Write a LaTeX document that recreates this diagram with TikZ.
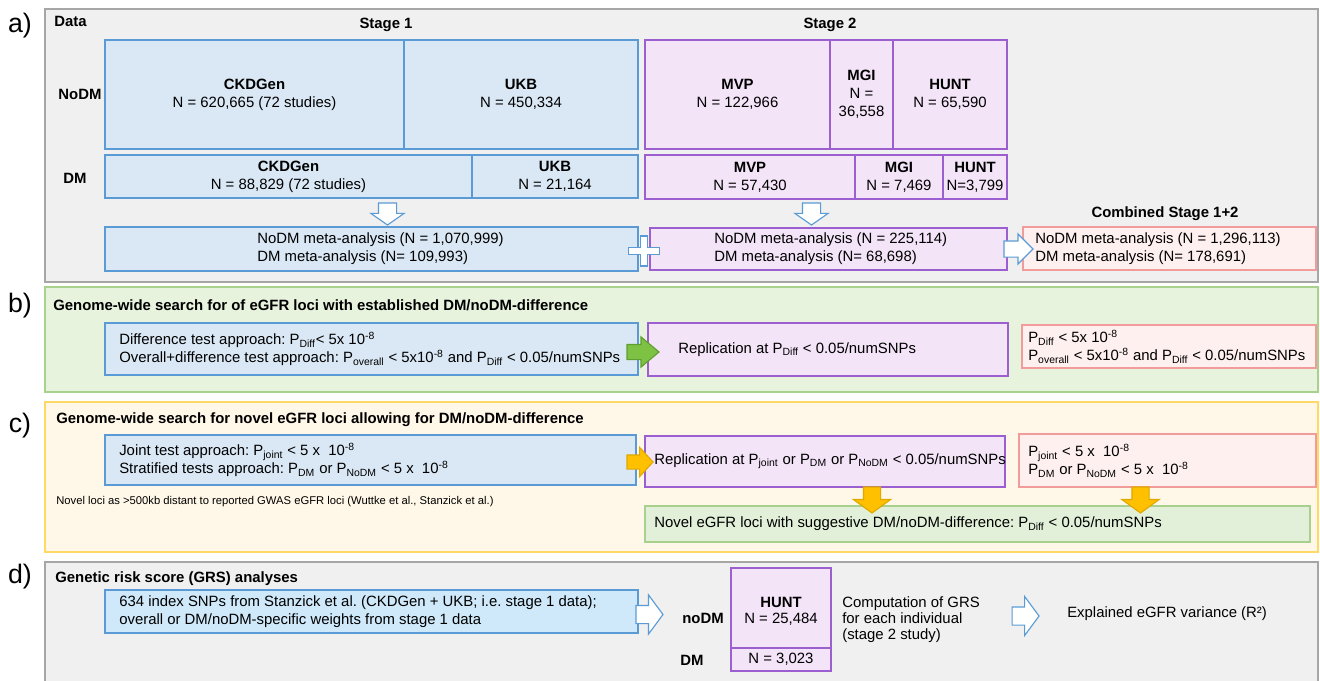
\documentclass[tikz,border=0pt]{standalone}
\usepackage{fontspec}
\setmainfont{Liberation Sans}
\usetikzlibrary{positioning,fit,calc,shapes.arrows}

\definecolor{panelgray}{HTML}{F0F0F0}
\definecolor{panelline}{HTML}{A6A6A6}
\definecolor{bluefill}{HTML}{DAE8F5}
\definecolor{blueline}{HTML}{5B9BD5}
\definecolor{purplefill}{HTML}{F3E4F8}
\definecolor{purpleline}{HTML}{9B5FCF}
\definecolor{redfill}{HTML}{FFF0F0}
\definecolor{redline}{HTML}{F29B9B}
\definecolor{greenpanel}{HTML}{E8F3DE}
\definecolor{greenline}{HTML}{A9D18E}
\definecolor{yellowpanel}{HTML}{FFF8E8}
\definecolor{yellowline}{HTML}{FFD966}
\definecolor{greenfill}{HTML}{E2F0D9}
\definecolor{cyanfill}{HTML}{CFE9FA}
\definecolor{arrowgreen}{HTML}{7DC242}
\definecolor{arrowgreenline}{HTML}{5E9E32}
\definecolor{arroworange}{HTML}{FFC000}
\definecolor{arroworangeline}{HTML}{E0A800}

\tikzset{%
	txt/.style      = {font=\fontsize{10.6}{12.8}\selectfont, inner sep=0pt},
	ctxt/.style     = {txt, align=center},
	ltxt/.style     = {txt, align=left, anchor=west},
	ttl/.style      = {font=\fontsize{10.6}{12.8}\selectfont\bfseries, inner sep=0pt},
	tag/.style      = {font=\fontsize{19}{22}\selectfont, inner sep=0pt},
	note/.style     = {font=\fontsize{8}{9.5}\selectfont, inner sep=0pt},
	box/.style      = {draw, line width=0.8pt, inner sep=0pt, outer sep=0pt},
	stage1/.style   = {box, draw=blueline, fill=bluefill},
	stage2/.style   = {box, draw=purpleline, fill=purplefill},
	combined/.style = {box, draw=redline, fill=redfill},
	novel/.style    = {box, draw=greenline, fill=greenfill},
	grs/.style      = {box, draw=blueline, fill=cyanfill},
	panelA/.style   = {draw=panelline, fill=panelgray, line width=0.8pt},
	panelB/.style   = {draw=greenline, fill=greenpanel, line width=0.8pt},
	panelC/.style   = {draw=yellowline, fill=yellowpanel, line width=1pt},
}
\tikzset{%
	blockarr/.style   = {single arrow, line width=0.8pt, inner xsep=0pt, outer sep=0pt, anchor=tail},
	hollowdown/.style = {blockarr, draw=blueline, fill=white, inner ysep=2.125mm, single arrow head extend=1.875mm, single arrow tip angle=110, minimum height=5.5mm, rotate=-90},
	hollowright/.style= {blockarr, draw=blueline, fill=white, inner ysep=1.875mm, single arrow head extend=1.75mm, single arrow tip angle=90, minimum height=7.25mm},
	hollowgrs/.style  = {blockarr, draw=blueline, fill=white, inner ysep=2.125mm, single arrow head extend=2.625mm, single arrow tip angle=107, minimum height=6.75mm},
	greenarr/.style   = {blockarr, draw=arrowgreenline, fill=arrowgreen, inner ysep=1.75mm, single arrow head extend=1.875mm, single arrow tip angle=80, minimum height=8mm},
	orangeright/.style= {blockarr, draw=arroworangeline, fill=arroworange, inner ysep=1.625mm, single arrow head extend=1.875mm, single arrow tip angle=95, minimum height=6.5mm},
	orangedown/.style = {blockarr, draw=arroworangeline, fill=arroworange, inner ysep=2mm, single arrow head extend=2.5mm, single arrow tip angle=108, minimum height=6.5mm, rotate=-90},
}

\begin{document}
\frenchspacing
\begin{tikzpicture}[x=0.25mm,y=-0.25mm]
	\useasboundingbox (0,0) rectangle (1320,680);
	\clip (0,0) rectangle (1320,680);
	\fill[white] (0,0) rectangle (1320,680);

	% panels
	\draw[panelA] (45,9) rectangle (1318,282);
	\draw[panelB] (45,287) rectangle (1318,392);
	\draw[panelC] (45,402) rectangle (1318,552);
	\draw[panelA] (45,562) rectangle (1318,700);

	\node[tag] (tagA) at (20,26) {a)};
	\node[tag] (tagB) at (20,306) {b)};
	\node[tag] (tagC) at (20,426) {c)};
	\node[tag] (tagD) at (20,577) {d)};

	% a) data
	\node[ttl,anchor=base west] (data) at (54,26) {Data};
	\node[ttl,anchor=base] (stageI) at (386,28) {Stage 1};
	\node[ttl,anchor=base] (stageII) at (830,28) {Stage 2};
	\node[ttl,anchor=base] (nodmA) at (80,99) {NoDM};
	\node[ttl,anchor=base] (dmA) at (75,183) {DM};
	\node[ttl,anchor=base] (combTitle) at (1165,217) {Combined Stage 1+2};

	\node[stage1,fit={(105,40)(404,149)}] (ckdNo) {};
	\node[ctxt] (ckdNoT) at (ckdNo) {\textbf{CKDGen}\\N = 620,665 (72 studies)};
	\node[stage1,fit={(404,40)(638,149)}] (ukbNo) {};
	\node[ctxt] (ukbNoT) at (ukbNo) {\textbf{UKB}\\N = 450,334};
	\node[stage1,fit={(105,155)(472,198)}] (ckdDm) {};
	\node[ctxt] (ckdDmT) at (ckdDm) {\textbf{CKDGen}\\N = 88,829 (72 studies)};
	\node[stage1,fit={(472,155)(638,198)}] (ukbDm) {};
	\node[ctxt] (ukbDmT) at (ukbDm) {\textbf{UKB}\\N = 21,164};
	\node[stage1,fit={(105,227)(638,271)}] (meta1) {};
	\node[ltxt] (meta1T) at ($(meta1.west)+(152,0)$) {NoDM meta-analysis (N = 1,070,999)\\DM meta-analysis (N= 109,993)};

	\node[stage2,fit={(645,40)(830,149)}] (mvpNo) {};
	\node[ctxt] (mvpNoT) at (mvpNo) {\textbf{MVP}\\N = 122,966};
	\node[stage2,fit={(830,40)(893,149)}] (mgiNo) {};
	\node[ctxt] (mgiNoT) at (mgiNo) {\textbf{MGI}\\N =\\36,558};
	\node[stage2,fit={(893,40)(1007,149)}] (huntNo) {};
	\node[ctxt] (huntNoT) at (huntNo) {\textbf{HUNT}\\N = 65,590};
	\node[stage2,fit={(645,155)(855,199)}] (mvpDm) {};
	\node[ctxt] (mvpDmT) at (mvpDm) {\textbf{MVP}\\N = 57,430};
	\node[stage2,fit={(855,155)(943,199)}] (mgiDm) {};
	\node[ctxt] (mgiDmT) at (mgiDm) {\textbf{MGI}\\N = 7,469};
	\node[stage2,fit={(943,155)(1007,199)}] (huntDm) {};
	\node[ctxt] (huntDmT) at (huntDm) {\textbf{HUNT}\\N=3,799};
	\node[stage2,fit={(650,228)(1007,270)}] (meta2) {};
	\node[ltxt] (meta2T) at ($(meta2.west)+(64,0)$) {NoDM meta-analysis (N = 225,114)\\DM meta-analysis (N= 68,698)};

	\node[combined,fit={(1023,227)(1316,270)}] (comb) {};

	\node[hollowdown] (arrI) at ($(meta1.north)+(16,-24)$) {};
	\node[hollowdown] (arrII) at ($(meta2.north)+(-17,-25)$) {};
	\node[hollowright] (arrComb) at ($(meta2.east)+(-3,0)$) {};
	\coordinate (plus) at ($(meta1.east)!0.5!(meta2.west)+(0,2)$);
	\draw[draw=blueline,fill=white,line width=0.8pt] (plus) ++(-3.5,-15) -- ++(7,0) -- ++(0,11.5) -- ++(12,0) -- ++(0,7) -- ++(-12,0) -- ++(0,11.5) -- ++(-7,0) -- ++(0,-11.5) -- ++(-12,0) -- ++(0,-7) -- ++(12,0) -- cycle;
	\node[ltxt] (combT) at ($(comb.west)+(12,0)$) {NoDM meta-analysis (N = 1,296,113)\\DM meta-analysis (N= 178,691)};

	% b) established difference
	\node[ttl,anchor=base west] (titleB) at (53,310) {Genome-wide search for of eGFR loci with established DM/noDM-difference};
	\node[stage1,fit={(105,323)(638,375)}] (diffB) {};
	\node[ltxt] (diffT) at ($(diffB.west)+(14,0)$) {Difference test approach: P\textsubscript{Diff}< 5x 10\textsuperscript{-8}\\Overall+difference test approach: P\textsubscript{overall} < 5x10\textsuperscript{-8} and P\textsubscript{Diff} < 0.05/numSNPs};
	\node[stage2,fit={(648,323)(1008,376)}] (repB) {};
	\node[ltxt] (repBT) at ($(repB.west)+(30,0)$) {Replication at P\textsubscript{Diff} < 0.05/numSNPs};
	\node[combined,fit={(1022,325)(1316,368)}] (redB) {};
	\node[ltxt] (redBT) at ($(redB.west)+(6,0)$) {P\textsubscript{Diff} < 5x 10\textsuperscript{-8}\\P\textsubscript{overall} < 5x10\textsuperscript{-8} and P\textsubscript{Diff} < 0.05/numSNPs};
	\node[greenarr] (arrB) at ($(diffB.east)+(-11,3)$) {};

	% c) novel loci
	\node[ttl,anchor=base west] (titleC) at (56,423) {Genome-wide search for novel eGFR loci allowing for DM/noDM-difference};
	\node[stage1,fit={(105,435)(636,485)}] (jointC) {};
	\node[ltxt] (jointT) at ($(jointC.west)+(14,0)$) {Joint test approach: P\textsubscript{joint} < 5 x~~10\textsuperscript{-8}\\Stratified tests approach: P\textsubscript{DM} or P\textsubscript{NoDM} < 5 x~~10\textsuperscript{-8}};
	\node[stage2,fit={(645,436)(1005,487)}] (repC) {};
	\node[ltxt] (repCT) at ($(repC.west)+(9,0)$) {Replication at P\textsubscript{joint} or P\textsubscript{DM} or P\textsubscript{NoDM} < 0.05/numSNPs};
	\node[combined,fit={(1019,434)(1316,487)}] (redC) {};
	\node[ltxt] (redCT) at ($(redC.west)+(9,0)$) {P\textsubscript{joint} < 5 x~~10\textsuperscript{-8}\\P\textsubscript{DM} or P\textsubscript{NoDM} < 5 x~~10\textsuperscript{-8}};
	\node[novel,fit={(645,506)(1310,542)}] (novC) {};
	\node[ltxt] (novCT) at ($(novC.west)+(9,0)$) {Novel eGFR loci with suggestive DM/noDM-difference: P\textsubscript{Diff} < 0.05/numSNPs};
	\node[note,anchor=base west] (noteC) at (56,504) {Novel loci as >500kb distant to reported GWAS eGFR loci (Wuttke et al., Stanzick et al.)};
	\node[orangeright] (arrC) at ($(jointC.east)+(-9,2)$) {};
	\node[orangedown] (arrRep) at ($(repC.south)+(47,0)$) {};
	\node[orangedown] (arrRed) at ($(redC.south)+(-27,0)$) {};

	% d) GRS
	\node[ttl,anchor=base west] (titleD) at (55,582) {Genetic risk score (GRS) analyses};
	\node[grs,fit={(105,590)(638,633)}] (grsD) {};
	\node[ltxt] (grsT) at ($(grsD.west)+(14,0)$) {634 index SNPs from Stanzick et al. (CKDGen + UKB; i.e. stage 1 data);\\overall or DM/noDM-specific weights from stage 1 data};
	\node[hollowgrs] (arrGrs) at ($(grsD.east)+(-2,3)$) {};
	\node[ttl,anchor=base] (nodmD) at (703,623) {noDM};
	\node[ttl,anchor=base] (dmD) at (692,665) {DM};
	\node[stage2,fit={(731,568)(831,648)}] (huntD) {};
	\node[ctxt,font=\fontsize{10.6}{11.6}\selectfont] (huntDT) at ($(huntD)+(0,3)$) {\textbf{HUNT}\\N = 25,484};
	\node[stage2,fit={(731,648)(831,671)}] (huntDmD) {};
	\node[ctxt] (huntDmDT) at (huntDmD) {N = 3,023};
	\node[ltxt,font=\fontsize{10.6}{11.4}\selectfont] (compT) at (842,620) {Computation of GRS\\for each individual\\(stage 2 study)};
	\node[hollowgrs] (arrVar) at ($(compT.east)+(32,-4)$) {};
	\node[ltxt] (varT) at (1067,614) {Explained eGFR variance (R²)};
\end{tikzpicture}
\end{document}
